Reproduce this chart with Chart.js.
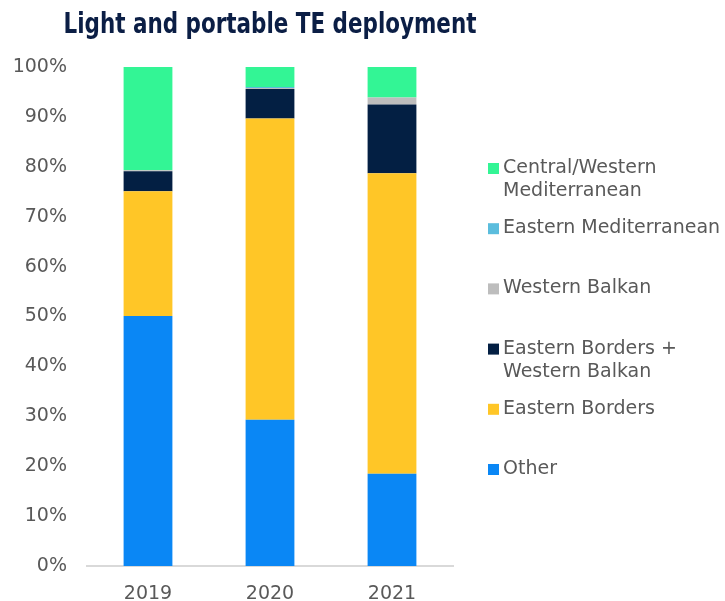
<!DOCTYPE html>
<html>
<head>
<meta charset="utf-8">
<script src="https://cdn.jsdelivr.net/npm/chart.js@4"></script>
<style>
  html, body { margin: 0; padding: 0; background: #ffffff; }
  #wrap { width: 725px; height: 601px; }
</style>
</head>
<body>
<div id="wrap"><canvas id="teChart" width="725" height="601"></canvas></div>
<script>
'use strict';

// data (shares in %)
var years = ['2019', '2020', '2021'];
var otherShare = [50.1, 29.3, 18.5];
var easternBorders = [25.0, 60.4, 60.2];
var easternBordersWB = [4.0, 5.9, 13.8];
var westernBalkan = [0.2, 0.2, 1.4];
var easternMed = [0, 0.2, 0];
var centralWesternMed = [20.7, 4.0, 6.1];
var yTicks = [0, 10, 20, 30, 40, 50, 60, 70, 80, 90, 100];

var chartTitle = 'Light and portable TE deployment';
var textGrey = '#595959';
var fontFamily = "'DejaVu Sans', Verdana, sans-serif";

// title drawn by hand: the original font is narrow, so squeeze it to width
var narrowTitle = {
  id: 'narrowTitle',
  afterDraw: function(chart) {
    var ctx = chart.ctx;
    var area = chart.chartArea;
    ctx.save();
    ctx.font = "bold 28px 'DejaVu Sans Condensed', 'DejaVu Sans', sans-serif";
    ctx.fillStyle = '#0B1E45';
    ctx.textAlign = 'center';
    ctx.textBaseline = 'alphabetic';
    ctx.fillText(chartTitle, (area.left + area.right) / 2, 33, 413);
    ctx.restore();
  }
};

// legend drawn by hand so the labels can wrap like the original
var sideLegend = {
  id: 'sideLegend',
  afterDraw: function(chart) {
    var ctx = chart.ctx;
    var area = chart.chartArea;
    var sets = chart.data.datasets.slice().reverse();
    var x = area.right + 35;
    var y = area.top + 101;
    ctx.save();
    ctx.font = '19px ' + fontFamily;
    ctx.textBaseline = 'middle';
    ctx.textAlign = 'left';
    for (var i = 0; i < sets.length; i++) {
      var lines = sets[i].legendText;
      ctx.fillStyle = sets[i].backgroundColor;
      ctx.fillRect(x, y + i * 60.2 - 5, 11, 11);
      ctx.fillStyle = textGrey;
      for (var j = 0; j < lines.length; j++) {
        ctx.fillText(lines[j], x + 15, y + i * 60.2 + j * 23);
      }
    }
    ctx.restore();
  }
};

var ctx = document.getElementById('teChart').getContext('2d');
var barChart = new Chart(ctx, {
  type: 'bar',
  data: {
    labels: years,
    datasets: [
      { label: 'Other', legendText: ['Other'], data: otherShare, backgroundColor: '#0A87F5' },
      { label: 'Eastern Borders', legendText: ['Eastern Borders'], data: easternBorders, backgroundColor: '#FFC627' },
      { label: 'Eastern Borders + Western Balkan', legendText: ['Eastern Borders +', 'Western Balkan'], data: easternBordersWB, backgroundColor: '#031F43' },
      { label: 'Western Balkan', legendText: ['Western Balkan'], data: westernBalkan, backgroundColor: '#BDBDBD' },
      { label: 'Eastern Mediterranean', legendText: ['Eastern Mediterranean'], data: easternMed, backgroundColor: '#5BBDDD' },
      { label: 'Central/Western Mediterranean', legendText: ['Central/Western', 'Mediterranean'], data: centralWesternMed, backgroundColor: '#33F595' }
    ]
  },
  options: {
    responsive: false,
    animation: false,
    layout: { padding: { left: 8, right: 272, top: 67, bottom: 0 } },
    datasets: {
      bar: { categoryPercentage: 1, barPercentage: 0.4 }
    },
    plugins: {
      legend: { display: false },
      tooltip: { enabled: false },
      title: { display: false }
    },
    scales: {
      x: {
        stacked: true,
        grid: { display: false, drawTicks: false },
        border: { color: '#D9D9D9', width: 2 },
        afterFit: function(axis) { axis.height = 35; },
        ticks: { color: textGrey, font: { family: fontFamily, size: 19 }, padding: 17 }
      },
      y: {
        stacked: true,
        min: 0,
        max: 100,
        afterBuildTicks: function(axis) {
          axis.ticks = yTicks.map(function(v) { return { value: v }; });
        },
        afterFit: function(axis) { axis.width = 79; },
        grid: { display: false, drawTicks: false },
        border: { display: false },
        ticks: {
          color: textGrey,
          font: { family: fontFamily, size: 19 },
          padding: 20,
          callback: function(v) { return v + '%'; }
        }
      }
    }
  },
  plugins: [narrowTitle, sideLegend]
});
</script>
</body>
</html>
